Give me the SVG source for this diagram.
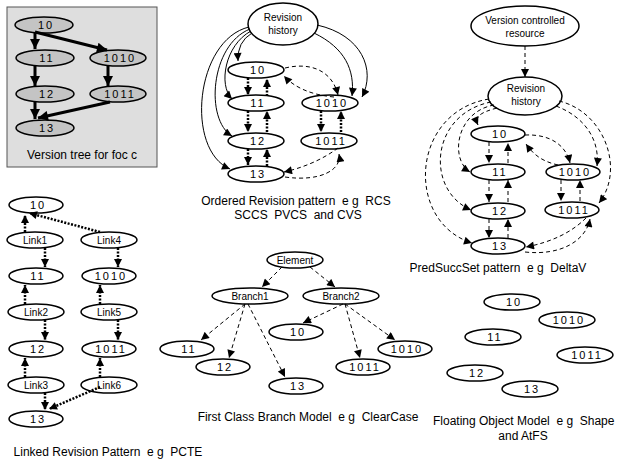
<svg xmlns="http://www.w3.org/2000/svg" width="620" height="459" viewBox="0 0 620 459">
<defs>
<marker id="ah" viewBox="0 0 10 10" refX="10" refY="5" markerWidth="9" markerHeight="8" orient="auto" markerUnits="userSpaceOnUse"><path d="M0,0 L10,5 L0,10 z" fill="#000"/></marker>
<marker id="ahb" viewBox="0 0 10 10" refX="10" refY="5" markerWidth="11" markerHeight="10" orient="auto" markerUnits="userSpaceOnUse"><path d="M0,0 L10,5 L0,10 z" fill="#000"/></marker>
</defs>
<style>
ellipse{fill:#fff;stroke:#000;stroke-width:1.5}
.g ellipse{fill:#c4c4c4}
text{font-family:"Liberation Sans",Arial,sans-serif;fill:#000;text-anchor:middle;white-space:pre}
.n{font-size:11px;letter-spacing:2px}
.s{font-size:10px}
.c{font-size:12px}
.solid{fill:none;stroke:#000;stroke-width:1;marker-end:url(#ah)}
.thick{fill:none;stroke:#000;stroke-width:3;marker-end:url(#ahb)}
.dot{fill:none;stroke:#000;stroke-width:2.5;stroke-dasharray:2 1.5;marker-end:url(#ah)}
.dash{fill:none;stroke:#000;stroke-width:1;stroke-dasharray:4 3;marker-end:url(#ah)}
</style>
<rect x="7" y="7" width="150" height="160" fill="#dedede" stroke="#555" stroke-width="1"/>
<g class="g">
<g id="vt10"><ellipse cx="44" cy="25" rx="29" ry="8"/><text class="n" x="46" y="29">10</text></g>
<g id="vt11"><ellipse cx="45" cy="58" rx="29" ry="8"/><text class="n" x="47" y="62">11</text></g>
<g id="vt1010"><ellipse cx="118" cy="58" rx="28" ry="8"/><text class="n" x="120" y="62">1010</text></g>
<g id="vt12"><ellipse cx="45" cy="94" rx="29" ry="8"/><text class="n" x="47" y="98">12</text></g>
<g id="vt1011"><ellipse cx="118" cy="94" rx="28" ry="8"/><text class="n" x="120" y="98">1011</text></g>
<g id="vt13"><ellipse cx="45" cy="128" rx="29" ry="8"/><text class="n" x="47" y="132">13</text></g>
</g>
<text class="c" x="82" y="159">Version tree for foc c</text>

<g id="or-rh"><ellipse cx="283" cy="24" rx="35" ry="21"/><text class="s" x="283" y="21">Revision</text><text class="s" x="283" y="34">history</text></g>
<g id="or10"><ellipse cx="256" cy="70" rx="28" ry="8"/><text class="n" x="258" y="74">10</text></g>
<g id="or11"><ellipse cx="256" cy="103" rx="28" ry="8"/><text class="n" x="258" y="107">11</text></g>
<g id="or1010"><ellipse cx="330" cy="103" rx="28" ry="8"/><text class="n" x="332" y="107">1010</text></g>
<g id="or12"><ellipse cx="256" cy="141" rx="28" ry="8"/><text class="n" x="258" y="145">12</text></g>
<g id="or1011"><ellipse cx="329" cy="141" rx="28" ry="8"/><text class="n" x="331" y="145">1011</text></g>
<g id="or13"><ellipse cx="256" cy="174" rx="28" ry="8"/><text class="n" x="258" y="178">13</text></g>
<text class="c" x="296" y="205">Ordered Revision pattern  e g  RCS</text>
<text class="c" x="298" y="219">SCCS  PVCS  and CVS</text>

<g id="ps-vcr"><ellipse cx="525" cy="26" rx="54" ry="20"/><text class="s" x="525" y="24">Version controlled</text><text class="s" x="525" y="37">resource</text></g>
<g id="ps-rh"><ellipse cx="525" cy="96" rx="37" ry="19"/><text class="s" x="526" y="92">Revision</text><text class="s" x="526" y="105">history</text></g>
<g id="ps10"><ellipse cx="498" cy="134" rx="27" ry="8"/><text class="n" x="500" y="138">10</text></g>
<g id="ps11"><ellipse cx="498" cy="172" rx="27" ry="8"/><text class="n" x="500" y="176">11</text></g>
<g id="ps1010"><ellipse cx="573" cy="172" rx="27" ry="8"/><text class="n" x="575" y="176">1010</text></g>
<g id="ps12"><ellipse cx="498" cy="211" rx="27" ry="8"/><text class="n" x="500" y="215">12</text></g>
<g id="ps1011"><ellipse cx="572" cy="210" rx="27" ry="8"/><text class="n" x="574" y="214">1011</text></g>
<g id="ps13"><ellipse cx="498" cy="246" rx="27" ry="8"/><text class="n" x="500" y="250">13</text></g>
<text class="c" x="498" y="272">PredSuccSet pattern  e g  DeltaV</text>

<g id="lk10"><ellipse cx="36" cy="205" rx="27" ry="8"/><text class="n" x="38" y="209">10</text></g>
<g id="lkL1"><ellipse cx="35" cy="240" rx="28" ry="8"/><text class="s" x="35" y="244">Link1</text></g>
<g id="lkL4"><ellipse cx="109" cy="240" rx="28" ry="8"/><text class="s" x="109" y="244">Link4</text></g>
<g id="lk11"><ellipse cx="36" cy="276" rx="27" ry="8"/><text class="n" x="38" y="280">11</text></g>
<g id="lk1010"><ellipse cx="109" cy="276" rx="27" ry="8"/><text class="n" x="111" y="280">1010</text></g>
<g id="lkL2"><ellipse cx="36" cy="312" rx="28" ry="8"/><text class="s" x="36" y="316">Link2</text></g>
<g id="lkL5"><ellipse cx="109" cy="312" rx="28" ry="8"/><text class="s" x="109" y="316">Link5</text></g>
<g id="lk12"><ellipse cx="36" cy="349" rx="27" ry="8"/><text class="n" x="38" y="353">12</text></g>
<g id="lk1011"><ellipse cx="109" cy="349" rx="27" ry="8"/><text class="n" x="111" y="353">1011</text></g>
<g id="lkL3"><ellipse cx="36" cy="385" rx="28" ry="8"/><text class="s" x="36" y="389">Link3</text></g>
<g id="lkL6"><ellipse cx="109" cy="385" rx="28" ry="8"/><text class="s" x="109" y="389">Link6</text></g>
<g id="lk13"><ellipse cx="36" cy="419" rx="27" ry="8"/><text class="n" x="38" y="423">13</text></g>
<text class="c" x="108" y="456">Linked Revision Pattern  e g  PCTE</text>

<g id="fc-el"><ellipse cx="295" cy="260" rx="28" ry="8"/><text class="s" x="295" y="264">Element</text></g>
<g id="fc-b1"><ellipse cx="250" cy="296" rx="38" ry="8"/><text class="s" x="250" y="300">Branch1</text></g>
<g id="fc-b2"><ellipse cx="341" cy="296" rx="38" ry="8"/><text class="s" x="341" y="300">Branch2</text></g>
<g id="fc10"><ellipse cx="296" cy="332" rx="27" ry="8"/><text class="n" x="298" y="336">10</text></g>
<g id="fc11"><ellipse cx="187" cy="349" rx="27" ry="8"/><text class="n" x="189" y="353">11</text></g>
<g id="fc12"><ellipse cx="223" cy="367" rx="27" ry="8"/><text class="n" x="225" y="371">12</text></g>
<g id="fc13"><ellipse cx="296" cy="386" rx="27" ry="8"/><text class="n" x="298" y="390">13</text></g>
<g id="fc1011"><ellipse cx="363" cy="367" rx="27" ry="8"/><text class="n" x="365" y="371">1011</text></g>
<g id="fc1010"><ellipse cx="405" cy="349" rx="27" ry="8"/><text class="n" x="407" y="353">1010</text></g>
<text class="c" x="308" y="421">First Class Branch Model  e g  ClearCase</text>

<g id="fl10"><ellipse cx="512" cy="302" rx="28" ry="8"/><text class="n" x="514" y="306">10</text></g>
<g id="fl1010"><ellipse cx="567" cy="320" rx="28" ry="8"/><text class="n" x="569" y="324">1010</text></g>
<g id="fl11"><ellipse cx="493" cy="337" rx="28" ry="8"/><text class="n" x="495" y="341">11</text></g>
<g id="fl1011"><ellipse cx="585" cy="355" rx="28" ry="8"/><text class="n" x="587" y="359">1011</text></g>
<g id="fl12"><ellipse cx="475" cy="373" rx="28" ry="8"/><text class="n" x="477" y="377">12</text></g>
<g id="fl13"><ellipse cx="530" cy="389" rx="28" ry="8"/><text class="n" x="532" y="393">13</text></g>
<text class="c" x="433" y="425" style="text-anchor:start">Floating Object Model  e g  Shape</text>
<text class="c" x="523" y="440">and AtFS</text>

<g id="connectors">
<path class="thick" d="M35,32 L35,49"/>
<path class="thick" d="M35,32 L107,50"/>
<path class="thick" d="M35,66 L35,86"/>
<path class="thick" d="M108,66 L108,86"/>
<path class="thick" d="M35,102 L35,119"/>
<path class="thick" d="M110,102 L38,118"/>

<path class="solid" d="M252,33 Q237,42 238,61"/>
<path class="solid" d="M251,31 C225,45 218,85 232,99"/>
<path class="solid" d="M250,29 C210,45 205,120 232,136"/>
<path class="solid" d="M249,27 C195,40 185,150 230,169"/>
<path class="solid" d="M314,33 C345,48 355,70 352,96"/>
<path class="solid" d="M317,25 C362,35 376,70 362,97"/>
<path class="dot" d="M248,78 L248,95"/>
<path class="dot" d="M267,96 L267,79"/>
<path class="dot" d="M248,111 L248,132"/>
<path class="dot" d="M267,132 L267,111"/>
<path class="dot" d="M248,149 L248,165"/>
<path class="dot" d="M267,166 L267,149"/>
<path class="dot" d="M321,111 L321,132"/>
<path class="dot" d="M341,132 L341,111"/>
<path class="dash" d="M285,68 C310,62 332,70 338,95"/>
<path class="dash" d="M334,97 C312,95 295,88 284,76"/>
<path class="dash" d="M338,148 C322,160 302,168 284,172"/>
<path class="dash" d="M285,177 C320,182 342,170 339,154"/>

<path class="dash" d="M525,46 L525,77"/>
<path class="dash" d="M497,108 C482,112 474,116 478,125"/>
<path class="dash" d="M494,105 C455,112 450,160 470,172"/>
<path class="dash" d="M491,102 C430,114 425,190 471,210"/>
<path class="dash" d="M489,99 C410,112 405,222 472,243"/>
<path class="dash" d="M556,106 C585,117 600,140 597,166"/>
<path class="dash" d="M559,101 C605,112 625,170 599,203"/>
<path class="dash" d="M489,142 L489,163"/>
<path class="dash" d="M508,163 L508,143"/>
<path class="dash" d="M489,180 L489,202"/>
<path class="dash" d="M508,202 L508,180"/>
<path class="dash" d="M489,219 L489,238"/>
<path class="dash" d="M508,238 L508,219"/>
<path class="dash" d="M561,180 L561,201"/>
<path class="dash" d="M580,201 L580,180"/>
<path class="dash" d="M525,135 C550,134 566,145 570,163"/>
<path class="dash" d="M558,165 C545,162 535,157 526,144"/>
<path class="dash" d="M586,218 C572,232 552,242 526,247"/>
<path class="dash" d="M525,252 C562,256 586,240 590,219"/>

<path class="dot" d="M25,232 L25,215"/>
<path class="dot" d="M100,232 L29,213"/>
<path class="dot" d="M45,248 L45,267"/>
<path class="dot" d="M118,248 L118,267"/>
<path class="dot" d="M25,304 L25,285"/>
<path class="dot" d="M45,320 L45,340"/>
<path class="dot" d="M100,304 L100,285"/>
<path class="dot" d="M118,320 L118,340"/>
<path class="dot" d="M25,377 L25,358"/>
<path class="dot" d="M45,393 L45,410"/>
<path class="dot" d="M100,377 L100,358"/>
<path class="dot" d="M100,387 L49,409"/>

<path class="dash" d="M282,267 L262,287"/>
<path class="dash" d="M310,267 L335,287"/>
<path class="dash" d="M245,304 L201,340"/>
<path class="dash" d="M245,304 L229,358"/>
<path class="dash" d="M248,304 L285,377"/>
<path class="dash" d="M343,304 L303,323"/>
<path class="dash" d="M345,304 L360,358"/>
<path class="dash" d="M345,304 L395,340"/>
</g>
</svg>
